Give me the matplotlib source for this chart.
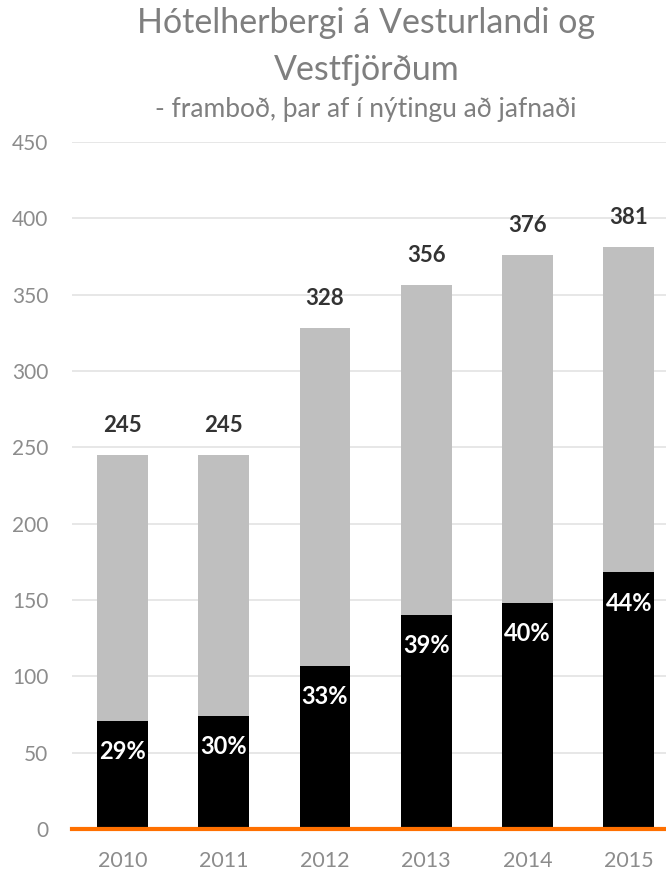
import matplotlib
matplotlib.use("Agg")
import matplotlib.pyplot as plt
import numpy as np

plt.rcParams['font.family'] = ['Lato', 'DejaVu Sans']

years = ['2010', '2011', '2012', '2013', '2014', '2015']
total_rooms = [245, 245, 328, 356, 376, 381]
occupied = [71, 74, 107, 140, 148, 168]
occ_pct = ['29%', '30%', '33%', '39%', '40%', '44%']

title_1 = 'Hótelherbergi á Vesturlandi og'
title_2 = 'Vestfjörðum'
subtitle = '- framboð, þar af í nýtingu að jafnaði'

fig = plt.figure(figsize=(6.66, 8.71), dpi=100)
ax = fig.add_axes([0.108, 0.0482, 0.912, 0.789])

x = np.arange(len(years))
w = 0.5
ax.bar(x, total_rooms, width=w, color='#bfbfbf', zorder=2)
ax.bar(x, occupied, width=w, color='#000000', zorder=3)

for i in range(len(years)):
    ax.annotate(str(total_rooms[i]), (x[i], total_rooms[i]), xytext=(0, 16.5),
                textcoords='offset points', ha='center', va='baseline',
                fontsize=16, fontweight='bold', color='#333333')
    ax.annotate(occ_pct[i], (x[i], occupied[i]), xytext=(0, -22),
                textcoords='offset points', ha='center', va='center',
                fontsize=17, fontweight='bold', color='white', zorder=4)

ax.set_xlim(-0.5, 5.5)
ax.set_ylim(0, 450)
ax.set_yticks(np.arange(0, 451, 50))
ax.set_xticks(x)
ax.set_xticklabels(years)
ax.yaxis.grid(True, color='#e3e3e3', linewidth=1.2, zorder=0)
ax.set_axisbelow(True)
for s in ['top', 'right', 'left']:
    ax.spines[s].set_visible(False)
ax.spines['bottom'].set_color('#ff7000')
ax.spines['bottom'].set_linewidth(3)
ax.spines['bottom'].set_zorder(5)
ax.tick_params(axis='both', length=0, labelsize=15.5, labelcolor='#8c8c8c')
ax.tick_params(axis='y', labelsize=15, pad=17)
ax.tick_params(axis='x', pad=16)

tc = '#7f7f7f'
fig.text(0.5503, 1 - 33 / 871, title_1, ha='center', va='baseline',
         fontsize=24.5, color=tc)
fig.text(0.5503, 1 - 80 / 871, title_2, ha='center', va='baseline',
         fontsize=24.5, color=tc)
fig.text(0.549, 1 - 117 / 871, subtitle, ha='center', va='baseline',
         fontsize=19, color=tc)

fig.savefig('out.png', dpi=100)
